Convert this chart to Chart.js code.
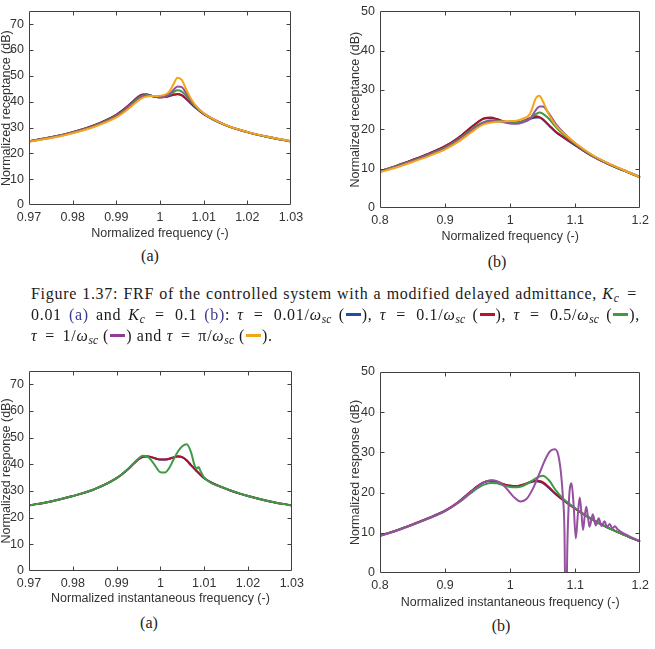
<!DOCTYPE html>
<html>
<head>
<meta charset="utf-8">
<script src="https://cdn.jsdelivr.net/npm/chart.js@4.4.1/dist/chart.umd.min.js"></script>
<style>
body { margin: 0; background: #fff; width: 655px; height: 649px; position: relative; overflow: hidden; }
canvas { position: absolute; }
.sub { position: absolute; width: 40px; text-align: center; font-family: "Liberation Serif", serif; font-size: 16px; color: #222; line-height: 18px; }
.cap { position: absolute; left: 31px; width: 609px; font-family: "Liberation Serif", serif; font-size: 16px; letter-spacing: 0.7px; color: #1a1a1a; line-height: 18px; white-space: nowrap; }
.j { text-align: justify; text-align-last: justify; }
.cap sub { font-size: 11.5px; vertical-align: -3px; line-height: 0; letter-spacing: 0.2px; }
.eq { margin: 0 3px; }
.ref { color: #3b3b8c; }
.sw { display: inline-block; width: 15px; height: 3px; vertical-align: 4px; margin: 0 1px; }
</style>
</head>
<body>
<canvas id="tl" width="310" height="246" style="left:0;top:0"></canvas>
<canvas id="tr" width="315" height="249" style="left:340px;top:0"></canvas>
<canvas id="bl" width="310" height="272" style="left:0;top:340px"></canvas>
<canvas id="br" width="315" height="274" style="left:340px;top:340px"></canvas>

<div class="sub" style="left:130px;top:247px">(a)</div>
<div class="sub" style="left:477px;top:253px">(b)</div>

<div class="cap j" style="top:285px">Figure 1.37: FRF of the controlled system with a modified delayed admittance, <i>K<sub>c</sub></i> <span class="eq">=</span></div>
<div class="cap j" style="top:306px">0.01 <span class="ref">(a)</span> and <i>K<sub>c</sub></i> <span class="eq">=</span> 0.1 <span class="ref">(b)</span>: <i>τ</i> <span class="eq">=</span> 0.01/<i>ω<sub>sc</sub></i> (<span class="sw" style="background:#1f4f9e"></span>), <i>τ</i> <span class="eq">=</span> 0.1/<i>ω<sub>sc</sub></i> (<span class="sw" style="background:#b5162b"></span>), <i>τ</i> <span class="eq">=</span> 0.5/<i>ω<sub>sc</sub></i> (<span class="sw" style="background:#3e9b3e"></span>),</div>
<div class="cap" style="top:327px"><i>τ</i> <span class="eq">=</span> 1/<i>ω<sub>sc</sub></i> (<span class="sw" style="background:#8e3c96"></span>) and <i>τ</i> <span class="eq">=</span> π/<i>ω<sub>sc</sub></i> (<span class="sw" style="background:#efa51d"></span>).</div>

<div class="sub" style="left:129px;top:614px">(a)</div>
<div class="sub" style="left:481px;top:617px">(b)</div>

<script>
// ---- data ----
var tauLabels = ['0.01/ωsc', '0.1/ωsc', '0.5/ωsc', '1/ωsc', 'π/ωsc'];

var narrowTicks = [0.97, 0.98, 0.99, 1, 1.01, 1.02, 1.03];
var wideTicks = [0.8, 0.9, 1, 1.1, 1.2];
var yTicks70 = [0, 10, 20, 30, 40, 50, 60, 70];
var yTicks50 = [0, 10, 20, 30, 40, 50];

// (a) receptance, Kc = 0.01
var tlX = [0.97, 0.975, 0.98, 0.985, 0.99, 0.992, 0.994, 0.995, 0.996, 0.997, 0.998, 0.999, 1.0, 1.001, 1.002, 1.003, 1.004, 1.005, 1.006, 1.007, 1.008, 1.01, 1.015, 1.02, 1.025, 1.03];
var tlBlue   = [24.7, 26.2, 28.2, 30.9, 34.9, 37.4, 40.4, 41.9, 42.8, 42.8, 42.3, 41.9, 41.7, 41.8, 42.1, 42.6, 42.9, 42.4, 41.0, 39.4, 37.8, 35.2, 30.9, 28.2, 26.2, 24.6];
var tlRed    = [24.7, 26.2, 28.2, 30.9, 34.9, 37.3, 40.3, 41.8, 42.7, 42.8, 42.3, 41.9, 41.7, 41.8, 42.2, 42.7, 43.0, 42.5, 41.1, 39.5, 37.9, 35.3, 30.9, 28.2, 26.2, 24.6];
var tlGreen  = [24.7, 26.1, 28.1, 30.7, 34.6, 37.0, 39.9, 41.4, 42.3, 42.6, 42.3, 42.0, 41.8, 42.0, 42.6, 43.6, 44.4, 43.9, 42.2, 40.2, 38.3, 35.4, 30.9, 28.2, 26.2, 24.6];
var tlPurple = [24.6, 26.0, 28.0, 30.5, 34.3, 36.7, 39.6, 41.0, 42.0, 42.4, 42.2, 41.9, 41.7, 42.0, 42.8, 44.4, 45.9, 45.6, 43.3, 40.7, 38.6, 35.5, 31.0, 28.3, 26.3, 24.7];
var tlOrange = [24.5, 25.9, 27.8, 30.3, 33.9, 36.2, 39.0, 40.4, 41.5, 42.0, 42.2, 42.2, 42.3, 42.6, 43.7, 46.4, 49.3, 48.4, 44.7, 41.4, 38.9, 35.5, 31.0, 28.3, 26.3, 24.7];

// (b) receptance, Kc = 0.1
var trX = [0.8, 0.825, 0.85, 0.875, 0.9, 0.92, 0.94, 0.95, 0.96, 0.97, 0.98, 0.99, 1.0, 1.01, 1.02, 1.03, 1.04, 1.045, 1.05, 1.06, 1.07, 1.08, 1.1, 1.125, 1.15, 1.175, 1.2];
var trBlue   = [9.4, 10.7, 12.2, 13.8, 15.7, 17.8, 20.5, 21.8, 22.7, 22.9, 22.5, 22.0, 21.7, 21.7, 22.0, 22.6, 23.0, 23.0, 22.5, 20.9, 19.3, 18.1, 15.9, 13.3, 11.2, 9.5, 7.8];
var trRed    = [9.4, 10.7, 12.2, 13.8, 15.7, 17.8, 20.5, 21.8, 22.8, 23.0, 22.6, 22.0, 21.7, 21.7, 22.1, 22.8, 23.3, 23.1, 22.6, 21.0, 19.4, 18.2, 16.0, 13.3, 11.2, 9.5, 7.8];
var trGreen  = [9.3, 10.6, 12.0, 13.6, 15.4, 17.4, 19.9, 21.1, 21.9, 22.3, 22.2, 21.9, 21.7, 21.7, 22.1, 22.6, 23.9, 24.3, 24.0, 22.6, 20.6, 18.9, 16.2, 13.4, 11.3, 9.5, 7.8];
var trPurple = [9.2, 10.5, 11.9, 13.5, 15.2, 17.2, 19.6, 20.8, 21.7, 22.1, 22.0, 21.8, 21.5, 21.4, 21.8, 22.6, 25.0, 25.8, 25.8, 23.9, 21.4, 19.5, 16.4, 13.5, 11.4, 9.6, 7.9];
var trOrange = [9.1, 10.3, 11.7, 13.2, 14.9, 16.8, 19.2, 20.4, 21.3, 21.7, 21.9, 22.0, 22.1, 22.2, 22.7, 23.8, 28.0, 28.5, 27.2, 23.6, 21.0, 19.3, 16.5, 13.6, 11.4, 9.6, 7.8];

// (a) instantaneous response, Kc = 0.01
var blX = tlX;
var blBlue = [24.6, 26.1, 28.1, 30.7, 34.8, 37.3, 40.4, 41.9, 42.8, 42.9, 42.6, 42.1, 41.8, 41.8, 42.1, 42.6, 42.9, 42.6, 41.4, 39.6, 37.9, 34.8, 30.8, 28.1, 26.1, 24.6];
var blRed  = [24.6, 26.1, 28.1, 30.7, 34.8, 37.3, 40.4, 41.9, 42.8, 43.0, 42.7, 42.2, 41.8, 41.8, 42.1, 42.6, 43.0, 42.7, 41.5, 39.7, 38.0, 34.8, 30.8, 28.1, 26.1, 24.6];
var blGreenX = [0.97, 0.975, 0.98, 0.985, 0.99, 0.992, 0.994, 0.995, 0.996, 0.997, 0.998, 0.999, 1.0, 1.001, 1.002, 1.003, 1.004, 1.005, 1.006, 1.007, 1.0078, 1.0083, 1.0087, 1.0092, 1.01, 1.015, 1.02, 1.025, 1.03];
var blGreen  = [24.6, 26.1, 28.1, 30.7, 34.8, 37.4, 40.6, 42.2, 43.2, 43.0, 41.3, 39.0, 37.0, 36.9, 38.6, 41.8, 44.8, 46.8, 47.5, 44.5, 39.6, 38.4, 39.0, 37.3, 35.0, 30.9, 28.1, 26.1, 24.6];

// (b) instantaneous response, Kc = 0.1
var brX = trX;
var brBlue  = [9.3, 10.6, 12.1, 13.7, 15.5, 17.6, 20.3, 21.6, 22.6, 22.9, 22.6, 22.0, 21.7, 21.6, 21.9, 22.5, 22.8, 22.7, 22.4, 21.1, 19.6, 18.3, 16.0, 13.4, 11.3, 9.5, 7.8];
var brRed   = [9.3, 10.6, 12.1, 13.7, 15.5, 17.6, 20.3, 21.6, 22.6, 23.0, 22.7, 22.1, 21.7, 21.6, 22.0, 22.6, 23.0, 22.9, 22.6, 21.3, 19.7, 18.4, 16.0, 13.4, 11.3, 9.5, 7.8];
var brGreen = [9.3, 10.5, 12.0, 13.6, 15.4, 17.4, 19.9, 21.1, 22.0, 22.4, 22.3, 21.8, 21.4, 21.3, 21.7, 22.6, 23.6, 24.0, 24.2, 23.0, 20.6, 18.7, 16.1, 13.4, 11.3, 9.5, 7.8];
var brPurpleX = [0.8, 0.825, 0.85, 0.875, 0.9, 0.92, 0.94, 0.95, 0.96, 0.974, 0.985, 0.995, 1.005, 1.016, 1.025, 1.035, 1.045, 1.055, 1.062, 1.069, 1.074, 1.078, 1.081, 1.0835, 1.0856, 1.0878, 1.0905, 1.0943, 1.0975, 1.1009, 1.104, 1.1069, 1.1095, 1.112, 1.1145, 1.117, 1.1195, 1.122, 1.127, 1.1315, 1.136, 1.1405, 1.145, 1.149, 1.153, 1.157, 1.161, 1.165, 1.175, 1.2];
var brPurple  = [9.2, 10.5, 12.0, 13.6, 15.4, 17.5, 20.2, 21.5, 22.6, 23.1, 22.4, 20.9, 19.0, 17.8, 18.4, 21.0, 24.8, 28.6, 30.4, 30.8, 29.3, 25.0, 19.0, 10.0, -20, 6.0, 18.5, 22.3, 17.0, 8.6, 14.5, 18.8, 15.0, 10.7, 14.0, 16.5, 14.0, 11.5, 14.6, 11.8, 13.6, 11.7, 12.9, 11.4, 12.2, 11.1, 11.6, 10.9, 9.8, 7.9];

// ---- drawing ----
var lineColors = ['#1c3f8f', '#b0122e', '#3f9a45', '#9550a0', '#f2a71b'];
var axisFont = { family: '"Liberation Sans", Arial, sans-serif', size: 12.5, lineHeight: 1 };
var ink = '#333333';

function pts(xs, ys) {
    return xs.map(function (x, i) { return { x: x, y: ys[i] }; });
}

function series(idx, xs, ys) {
    return {
        label: 'τ = ' + tauLabels[idx],
        data: pts(xs, ys),
        borderColor: lineColors[idx],
        borderWidth: 2,
        pointRadius: 0,
        cubicInterpolationMode: 'monotone',
        order: 4 - idx
    };
}

// box with inward ticks on all four sides, like the matlab axes
var frameTicks = {
    id: 'frameTicks',
    afterDatasetsDraw: function (chart) {
        var ctx = chart.ctx, a = chart.chartArea;
        var x = chart.scales.x, y = chart.scales.y;
        var L = Math.round(a.left) + 0.5, R = Math.round(a.right) - 0.5;
        var T = Math.round(a.top) + 0.5, B = Math.round(a.bottom) - 0.5;
        var len = 4;
        ctx.save();
        ctx.strokeStyle = '#404040';
        ctx.lineWidth = 1;
        ctx.beginPath();
        ctx.rect(L, T, R - L, B - T);
        x.ticks.forEach(function (t) {
            var px = Math.round(x.getPixelForValue(t.value)) + 0.5;
            if (px <= L + 1 || px >= R - 1) return;
            ctx.moveTo(px, B); ctx.lineTo(px, B - len);
            ctx.moveTo(px, T); ctx.lineTo(px, T + len);
        });
        y.ticks.forEach(function (t) {
            var py = Math.round(y.getPixelForValue(t.value)) + 0.5;
            if (py <= T + 1 || py >= B - 1) return;
            ctx.moveTo(L, py); ctx.lineTo(L + len, py);
            ctx.moveTo(R, py); ctx.lineTo(R - len, py);
        });
        ctx.stroke();
        ctx.restore();
    }
};

// box: canvas placement on the page, area: plot box on the page, ttl: axis title centres on the page
function panel(id, box, area, ttl, xTicks, yTicks, yMax, xTitle, yTitle, datasets) {
    return new Chart(document.getElementById(id), {
        type: 'line',
        data: { datasets: datasets },
        plugins: [frameTicks],
        options: {
            responsive: false,
            animation: false,
            events: [],
            layout: {
                padding: { left: 0, top: area.t - box.top, right: box.left + box.w - area.r, bottom: 0 }
            },
            plugins: { legend: { display: false }, tooltip: { enabled: false } },
            scales: {
                x: {
                    type: 'linear',
                    min: xTicks[0],
                    max: xTicks[xTicks.length - 1],
                    afterBuildTicks: function (s) { s.ticks = xTicks.map(function (v) { return { value: v }; }); },
                    afterFit: function (s) { s.height = box.top + box.h - area.b; },
                    grid: { display: false, drawTicks: false },
                    border: { display: false },
                    ticks: { autoSkip: false, maxRotation: 0, padding: 6, color: ink, font: axisFont,
                        callback: function (v) { return String(v); } },
                    title: { display: true, text: xTitle, color: ink, font: axisFont,
                        padding: { top: 0, bottom: box.top + box.h - ttl.y - 6 } }
                },
                y: {
                    type: 'linear',
                    min: 0,
                    max: yMax,
                    afterBuildTicks: function (s) { s.ticks = yTicks.map(function (v) { return { value: v }; }); },
                    afterFit: function (s) { s.width = area.l - box.left; },
                    grid: { display: false, drawTicks: false },
                    border: { display: false },
                    ticks: { padding: 5, color: ink, font: axisFont,
                        callback: function (v) { return String(v); } },
                    title: { display: true, text: yTitle, color: ink, font: axisFont,
                        padding: { top: Math.max(0, ttl.x - box.left - 6), bottom: 0 } }
                }
            }
        }
    });
}

panel('tl', { left: 0, top: 0, w: 310, h: 246 }, { l: 29, r: 291, t: 5, b: 205 }, { x: 6, y: 234 },
    narrowTicks, yTicks70, 75, 'Normalized frequency (-)', 'Normalized receptance (dB)', [
        series(0, tlX, tlBlue), series(1, tlX, tlRed), series(2, tlX, tlGreen),
        series(3, tlX, tlPurple), series(4, tlX, tlOrange)
    ]);

panel('tr', { left: 340, top: 0, w: 315, h: 249 }, { l: 380, r: 645, t: 7, b: 208 }, { x: 355, y: 237 },
    wideTicks, yTicks50, 50, 'Normalized frequency (-)', 'Normalized receptance (dB)', [
        series(0, trX, trBlue), series(1, trX, trRed), series(2, trX, trGreen),
        series(3, trX, trPurple), series(4, trX, trOrange)
    ]);

panel('bl', { left: 0, top: 340, w: 310, h: 272 }, { l: 29, r: 292, t: 371, b: 571 }, { x: 5, y: 599 },
    narrowTicks, yTicks70, 75, 'Normalized instantaneous frequency (-)', 'Normalized response (dB)', [
        series(0, blX, blBlue), series(1, blX, blRed), series(2, blGreenX, blGreen)
    ]);

panel('br', { left: 340, top: 340, w: 315, h: 274 }, { l: 380, r: 645, t: 372, b: 573 }, { x: 355, y: 603 },
    wideTicks, yTicks50, 50, 'Normalized instantaneous frequency (-)', 'Normalized response (dB)', [
        series(0, brX, brBlue), series(1, brX, brRed), series(2, brX, brGreen),
        series(3, brPurpleX, brPurple)
    ]);
</script>
</body>
</html>
